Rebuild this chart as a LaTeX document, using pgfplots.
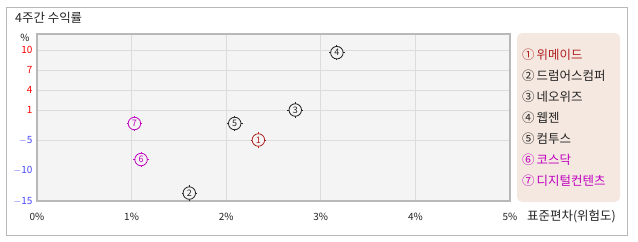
\documentclass[border=0pt]{standalone}
\usepackage{fontspec}
\setmainfont{Noto Sans CJK KR}
\usepackage{pgfplots}
\pgfplotsset{compat=1.18}
\definecolor{bgc}{HTML}{F4F4F4}
\definecolor{gridc}{HTML}{DCDCDC}
\definecolor{axc}{HTML}{B8B8B8}
\definecolor{cred}{HTML}{B02020}
\definecolor{cdark}{HTML}{222222}
\definecolor{cmag}{HTML}{C000C0}
\definecolor{legbg}{HTML}{F5E8E0}
\definecolor{posc}{HTML}{FF0000}
\definecolor{negc}{HTML}{4848FF}
\pgfplotsset{
  pt/.style={only marks, mark=+, mark size=7.8bp, line width=0.8bp, color=#1,
    nodes near coords align=center,
    every node near coord/.style={circle, draw=#1, line width=0.8bp, fill=bgc, inner sep=0pt,
      minimum size=12.5bp, font=\fontsize{9}{9}\selectfont, text=#1, anchor=center}},
}
\begin{document}
\begin{tikzpicture}
\path[use as bounding box] (0,0) rectangle (638bp,-242bp);
\draw[axc, line width=1bp] (6bp,-7bp) rectangle (627bp,-235bp);
\node[anchor=west, font=\fontsize{12.5}{12.5}\selectfont, text=cdark, inner sep=0] at (15bp,-18bp) {4주간 수익률};
\node[font=\fontsize{10}{10}\selectfont, text=cdark, inner sep=0] at (25bp,-38bp) {\%};
\begin{axis}[at={(37bp,-201bp)}, anchor=south west, scale only axis,
  width=473bp, height=167bp,
  xmin=0, xmax=5, ymin=-15, ymax=12.4,
  y coord trafo/.code={\pgfmathparse{#1>=1 ? 91+(#1-1)*20/3 : (#1>=-5 ? 61+(#1+5)*5 : (#1+15)*6.1)}},
  axis background/.style={fill=bgc},
  axis line style={axc, line width=1.5bp},
  xmajorgrids, ymajorgrids,
  grid style={gridc, line width=1bp},
  major tick length=0pt,
  /pgf/number format/assume math mode=true,
  xtick={0,1,2,3,4,5},
  xticklabels={0\%,1\%,2\%,3\%,4\%,5\%},
  x tick label style={font=\fontsize{10}{10}\selectfont, text=cdark, yshift=-9bp},
  ytick={-15,-5,1,4,7,10},
  yticklabels={\textcolor{negc}{$-$15},\textcolor{negc}{$-$5},\textcolor{posc}{1},\textcolor{posc}{4},\textcolor{posc}{7},\textcolor{posc}{10}},
  extra y ticks={-10},
  extra y tick labels={\textcolor{negc}{$-$10}},
  extra y tick style={grid=none},
  y tick label style={font=\fontsize{10}{10}\selectfont, xshift=-1bp},
  clip=false,
]
\addplot[pt=cred, nodes near coords={1}] coordinates {(2.34,-5)};
\addplot[pt=cdark, nodes near coords={2}] coordinates {(1.61,-13.7)};
\addplot[pt=cdark, nodes near coords={3}] coordinates {(2.73,1)};
\addplot[pt=cdark, nodes near coords={4}] coordinates {(3.17,9.6)};
\addplot[pt=cdark, nodes near coords={5}] coordinates {(2.09,-1.7)};
\addplot[pt=cmag, nodes near coords={6}] coordinates {(1.10,-8.2)};
\addplot[pt=cmag, nodes near coords={7}] coordinates {(1.03,-1.7)};
\end{axis}
\node[anchor=west, font=\fontsize{12.5}{12.5}\selectfont, text=cdark, inner sep=0] at (527bp,-217bp) {표준편차(위험도)};
\fill[legbg, rounded corners=5bp] (517bp,-33bp) rectangle (620bp,-202bp);
\foreach \t/\c/\y in {{①\,위메이드}/cred/55, {②\,드럼어스컴퍼}/cdark/76, {③\,네오위즈}/cdark/97, {④\,웹젠}/cdark/118, {⑤\,컴투스}/cdark/139, {⑥\,코스닥}/cmag/160, {⑦\,디지털컨텐츠}/cmag/181}
  \node[anchor=west, font=\fontsize{12.5}{12.5}\selectfont, text=\c, inner sep=0] at (522bp,-\y bp) {\t};
\end{tikzpicture}
\end{document}
